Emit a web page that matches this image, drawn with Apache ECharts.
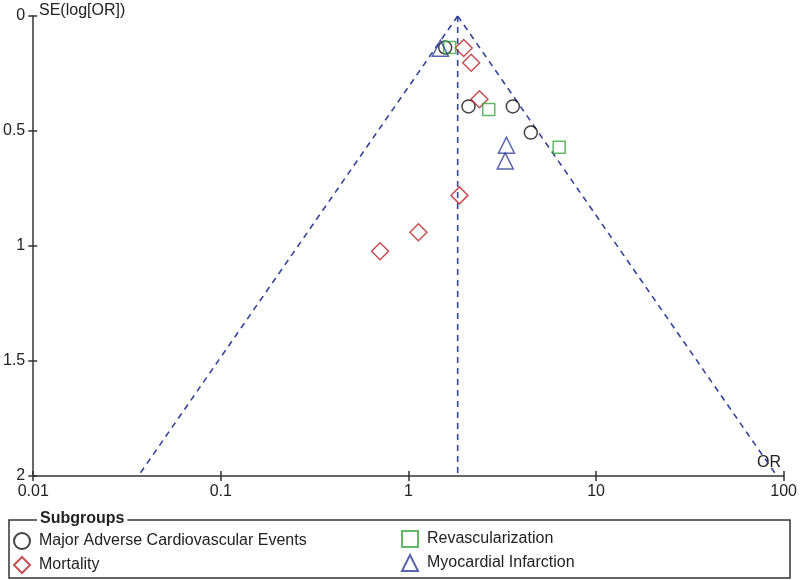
<!DOCTYPE html>
<html>
<head>
<meta charset="utf-8">
<script src="https://cdn.jsdelivr.net/npm/echarts@6/dist/echarts.min.js"></script>
<style>html,body{margin:0;padding:0;background:#fff}#c{width:800px;height:580px}</style>
</head>
<body>
<div id="c"></div>
<script>
// ---- data (OR, SE(log[OR])) ----
const maceOR = [1.57, 2.09, 3.60, 4.49];
const maceSE = [0.137, 0.393, 0.393, 0.507];
const revascOR = [1.66, 2.68, 6.36];
const revascSE = [0.137, 0.406, 0.571];
const mortOR = [1.97, 2.16, 2.39, 1.87, 1.13, 0.706];
const mortSE = [0.139, 0.203, 0.362, 0.780, 0.940, 1.023];
const miOR = [1.48, 3.33, 3.28];
const miSE = [0.140, 0.562, 0.630];
// funnel (pooled estimate and 95% limits at SE = 2)
const funnelSE = [0, 2];
const funnelLeftOR = [1.83, 0.0363];
const funnelRightOR = [1.83, 92.1];
const pooledLineOR = [1.83, 1.83];
const xTicks = ['0.01', '0.1', '1', '10', '100'];
const yTicks = ['0', '0.5', '1', '1.5', '2'];
const names = ['Major Adverse Cardiovascular Events', 'Mortality', 'Revascularization', 'Myocardial Infarction'];
const colors = ['#111111', '#b8232b', '#3aa63e', '#2e3d96'];

const pairs = (xs, ys) => xs.map((v, i) => [v, ys[i]]);
const FONT = 'Liberation Sans, Arial, sans-serif';
const dashStyle = { color: '#34449a', width: 1.6, type: [6, 5] };

const chart = echarts.init(document.getElementById('c'), null, { renderer: 'canvas' });
const hollow = (c) => ({ color: 'rgba(0,0,0,0)', borderColor: c, borderWidth: 1.5 });

const xBase = {
  type: 'log', logBase: 10, min: 0.01, max: 100, gridIndex: 0, position: 'bottom',
  splitLine: { show: false }, minorTick: { show: false }
};
const yBase = {
  type: 'value', min: 0, max: 2, interval: 0.5, inverse: true, gridIndex: 0, position: 'left',
  splitLine: { show: false }
};

chart.setOption({
  animation: false,
  backgroundColor: '#fff',
  textStyle: { fontFamily: FONT },
  grid: { left: 31, right: 14, top: 16, bottom: 104, containLabel: false },
  xAxis: [
    Object.assign({}, xBase, {
      axisLine: { show: true, onZero: false, lineStyle: { color: '#333', width: 1.5 } },
      axisTick: { show: true, inside: true, length: 5, lineStyle: { color: '#333', width: 1.5 } },
      axisLabel: {
        show: true, margin: 8, fontSize: 16, color: '#222', fontFamily: FONT,
        formatter: (v) => { const i = Math.round(Math.log10(v)) + 2; return xTicks[i] !== undefined ? xTicks[i] : ''; }
      }
    }),
    Object.assign({}, xBase, {
      axisLine: { show: false, onZero: false },
      axisTick: { show: true, inside: false, length: 5, lineStyle: { color: '#333', width: 1.5 } },
      axisLabel: { show: false }
    })
  ],
  yAxis: [
    Object.assign({}, yBase, {
      axisLine: { show: true, onZero: false, lineStyle: { color: '#333', width: 1.5 } },
      axisTick: { show: true, inside: true, length: 4, lineStyle: { color: '#333', width: 1.5 } },
      axisLabel: {
        show: true, margin: 8, fontSize: 16, color: '#222', fontFamily: FONT,
        formatter: (v) => { const i = Math.round(v / 0.5); return yTicks[i] !== undefined ? yTicks[i] : ''; }
      }
    }),
    Object.assign({}, yBase, {
      axisLine: { show: false, onZero: false },
      axisTick: { show: true, inside: false, length: 5, lineStyle: { color: '#333', width: 1.5 } },
      axisLabel: { show: false }
    })
  ],
  legend: [
    {
      orient: 'vertical', left: 13, top: 532, padding: 0, itemGap: 6, itemWidth: 16, itemHeight: 16,
      textStyle: { fontSize: 16, color: '#222', fontFamily: FONT, padding: [0, 0, 0, 4] },
      data: [names[0], names[1]]
    },
    {
      orient: 'vertical', left: 401, top: 530, padding: 0, itemGap: 6, itemWidth: 16, itemHeight: 16,
      textStyle: { fontSize: 16, color: '#222', fontFamily: FONT, padding: [0, 0, 0, 4] },
      data: [names[2], names[3]]
    }
  ],
  graphic: [
    { type: 'rect', shape: { x: 9, y: 520, width: 781, height: 58 }, style: { fill: 'none', stroke: '#333', lineWidth: 1.5 }, z: 10, silent: true },
    { type: 'text', left: 37, top: 511, style: { text: 'Subgroups', font: 'bold 16px ' + FONT, fill: '#222', backgroundColor: '#fff', padding: [0, 3, 0, 3] }, z: 11, silent: true },
    { type: 'text', left: 39, top: 3, style: { text: 'SE(log[OR])', font: '16px ' + FONT, fill: '#222' }, silent: true },
    { type: 'text', left: 757, top: 455, style: { text: 'OR', font: '16px ' + FONT, fill: '#222' }, silent: true }
  ],
  series: [
    { name: 'funnelL', type: 'line', data: pairs(funnelLeftOR, funnelSE), symbol: 'none', lineStyle: dashStyle, silent: true, z: 1 },
    { name: 'funnelR', type: 'line', data: pairs(funnelRightOR, funnelSE), symbol: 'none', lineStyle: dashStyle, silent: true, z: 1 },
    { name: 'pooled', type: 'line', data: pairs(pooledLineOR, funnelSE), symbol: 'none', lineStyle: dashStyle, silent: true, z: 1 },
    { name: names[0], type: 'scatter', symbol: 'circle', symbolSize: 13, data: pairs(maceOR, maceSE), itemStyle: hollow(colors[0]), z: 3 },
    { name: names[1], type: 'scatter', symbol: 'diamond', symbolSize: 17, data: pairs(mortOR, mortSE), itemStyle: hollow(colors[1]), z: 3 },
    { name: names[2], type: 'scatter', symbol: 'rect', symbolSize: 12, data: pairs(revascOR, revascSE), itemStyle: hollow(colors[2]), z: 3 },
    { name: names[3], type: 'scatter', symbol: 'triangle', symbolSize: 16, data: pairs(miOR, miSE), itemStyle: hollow(colors[3]), z: 3 }
  ]
});
</script>
</body>
</html>
